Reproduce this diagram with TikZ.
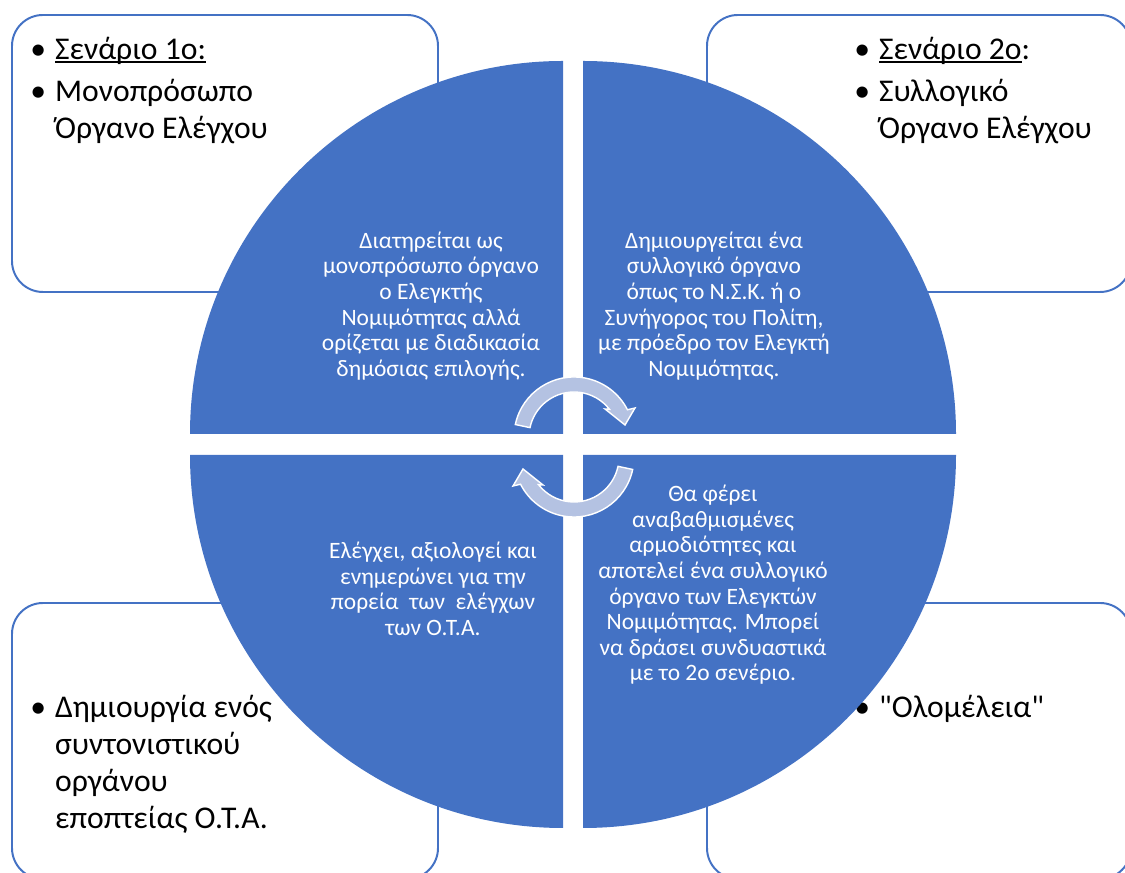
\documentclass[tikz,border=0pt]{standalone}
\usepackage{fontspec}
\setmainfont{Carlito}[Ligatures=TeXOff]
\definecolor{quadblue}{RGB}{68,114,196}
\definecolor{arrowfill}{RGB}{180,194,226}
\newcommand\bul[1]{\par\hangindent=12pt\hangafter=0\noindent\llap{\makebox[24pt]{•}}#1\par}
\newcommand\undl[1]{\setbox0\hbox{#1}\rlap{\rule[-2.6pt]{\wd0}{0.9pt}}\box0}
\newcommand\turnarrow{% arrow round the origin, clockwise
  (168:60) arc[start angle=168, end angle=27, radius=60]
  -- (61,29) -- (51,12) -- (31,28) -- (38:45)
  arc[start angle=38, end angle=168, radius=45] -- cycle
}
\begin{document}
\begin{tikzpicture}[x=0.025cm,y=0.025cm,
		scenario/.style={draw=quadblue,line width=1.4pt,rounded corners=22pt},
		boxtext/.style={text width=9cm,align=flush left,inner sep=0pt,font=\fontsize{22.5}{26.4}\selectfont\setlength\parskip{4pt}},
		quadtext/.style={text=white,align=center,inner sep=0pt,font=\fontsize{16.7}{18.2}\selectfont},
		quadrant/.style={fill=quadblue},
		cyclearrow/.style={fill=arrowfill,draw=white,line width=1pt}]
		\useasboundingbox (0,0) rectangle (1125,873);

		\draw[scenario] (12,581) rectangle (438,858);
		\draw[scenario] (707,581) rectangle (1131,858);
		\draw[scenario] (12,-6) rectangle (438,270);
		\draw[scenario] (707,-6) rectangle (1131,270);

		\node[boxtext,anchor=north west] (S1) at (38,857) {\bul{\undl{Σενάριο 1ο:}}\bul{Μονοπρόσωπο\newline Όργανο Ελέγχου}};
		\node[boxtext,anchor=north west] (S2) at (862,857) {\bul{\undl{Σενάριο 2ο}:}\bul{Συλλογικό\newline Όργανο Ελέγχου}};
		\node[boxtext,anchor=north west] (S3) at (38,199) {\bul{Δημιουργία ενός\newline συντονιστικού\newline οργάνου\newline εποπτείας Ο.Τ.Α.}};
		\node[boxtext,anchor=north west] (S4) at (862,199) {\bul{"Ολομέλεια"}};

		\fill[quadrant] (563,439) -- ++(180:373) arc[start angle=180, end angle=90, radius=373] -- cycle;
		\fill[quadrant] (583,439) -- ++(90:373) arc[start angle=90, end angle=0, radius=373] -- cycle;
		\fill[quadrant] (563,418) -- ++(270:373) arc[start angle=270, end angle=180, radius=373] -- cycle;
		\fill[quadrant] (583,418) -- ++(0:373) arc[start angle=0, end angle=-90, radius=373] -- cycle;

		\node[quadtext] (Q1) at (431,567) {Διατηρείται ως\\μονοπρόσωπο όργανο\\ο Ελεγκτής\\Νομιμότητας αλλά\\ορίζεται με διαδικασία\\δημόσιας επιλογής.};
		\node[quadtext] (Q2) at (714,567) {Δημιουργείται ένα\\συλλογικό όργανο\\όπως το Ν.Σ.Κ. ή ο\\Συνήγορος του Πολίτη,\\με πρόεδρο τον Ελεγκτή\\Νομιμότητας.};
		\node[quadtext] (Q3) at (433,284) {Ελέγχει, αξιολογεί και\\ενημερώνει για την\\πορεία\ \ των\ \ ελέγχων\\των Ο.Τ.Α.};
		\node[quadtext] (Q4) at (713,288) {Θα φέρει\\αναβαθμισμένες\\αρμοδιότητες και\\αποτελεί ένα συλλογικό\\όργανο των Ελεγκτών\\Νομιμότητας. Μπορεί\\να δράσει συνδυαστικά\\με το 2ο σενέριο.};

		\filldraw[cyclearrow,shift={(574,436)}] \turnarrow;
		\filldraw[cyclearrow,shift={(574,416)},rotate=180] \turnarrow;
	\end{tikzpicture}
\end{document}
